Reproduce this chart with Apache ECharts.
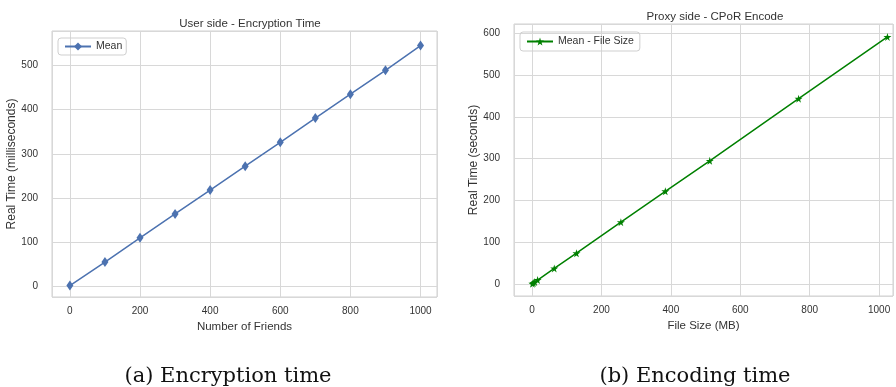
<!DOCTYPE html>
<html>
<head>
<meta charset="utf-8">
<script src="https://cdn.jsdelivr.net/npm/echarts@6/dist/echarts.min.js"></script>
<style>
  html, body { margin: 0; padding: 0; background: #fff; }
  #main { width: 896px; height: 387px; }
</style>
</head>
<body>
<div id="main"></div>
<script>
// left: user side encryption
var friends = [0, 100, 200, 300, 400, 500, 600, 700, 800, 900, 1000]
var encMs = [2, 55, 110, 164, 218, 272, 326, 381, 435, 489, 545]

// right: proxy side CPoR encode
var fileMB = [1, 4, 8, 16, 64, 128, 256, 384, 512, 768, 1024]
var encodeSec = [0.6, 2.3, 4.6, 9.3, 37, 73.5, 148, 222, 295, 444, 592]

var tickStep = 200   // only label these x values

var font = 'Liberation Sans, Arial, sans-serif'
var starPath = 'path://M50,0 L61,35 L98,35 L68,57 L79,91 L50,70 L21,91 L32,57 L2,35 L39,35 Z'

function pairs(xs, ys) {
  return xs.map(function (x, i) { return [x, ys[i]] })
}

function xAxisCfg(idx, name, min, max) {
  return {
    type: 'value', gridIndex: idx, min: min, max: max, splitNumber: 5,
    name: name, nameLocation: 'middle', nameGap: 21,
    nameTextStyle: { color: '#333', fontSize: 11.5, fontFamily: font },
    axisLine: { show: false }, axisTick: { show: false },
    axisLabel: {
      color: '#333', fontSize: 10, fontFamily: font, margin: 9,
      formatter: function (v) { return v % tickStep === 0 ? String(v) : '' }
    },
    splitLine: { lineStyle: { color: '#d8d8d8', width: 1 } }
  }
}

function yAxisCfg(idx, name, min, max, gap) {
  return {
    type: 'value', gridIndex: idx, min: min, max: max, splitNumber: 5,
    name: name, nameLocation: 'middle', nameGap: gap,
    nameTextStyle: { color: '#333', fontSize: 12, fontFamily: font },
    axisLine: { show: false }, axisTick: { show: false },
    axisLabel: {
      color: '#333', fontSize: 10, fontFamily: font, margin: 14,
      formatter: function (v) { return v % 100 === 0 ? String(v) : '' }
    },
    splitLine: { lineStyle: { color: '#d8d8d8', width: 1 } }
  }
}

var myChart = echarts.init(document.getElementById('main'), null, { renderer: 'canvas' })

var options = {
  animation: false,
  backgroundColor: '#fff',
  title: [
    { text: 'User side - Encryption Time', left: 245, top: 13, textAlign: 'center',
      textStyle: { fontSize: 11.5, fontWeight: 'normal', color: '#333', fontFamily: font } },
    { text: 'Proxy side - CPoR Encode', left: 710, top: 6, textAlign: 'center',
      textStyle: { fontSize: 11.5, fontWeight: 'normal', color: '#333', fontFamily: font } },
    { text: '(a) Encryption time', left: 223, top: 361, textAlign: 'center',
      textStyle: { fontSize: 21, fontWeight: 'normal', color: '#111', fontFamily: 'DejaVu Serif, serif' } },
    { text: '(b) Encoding time', left: 690, top: 361, textAlign: 'center',
      textStyle: { fontSize: 21, fontWeight: 'normal', color: '#111', fontFamily: 'DejaVu Serif, serif' } }
  ],
  legend: [
    { data: ['Mean'], left: 58, top: 38, orient: 'vertical',
      itemWidth: 26, itemHeight: 10, itemGap: 4,
      padding: [3, 4, 3, 6], borderColor: '#cfcfcf', borderWidth: 1, borderRadius: 3,
      textStyle: { fontSize: 10.5, color: '#333', fontFamily: font } },
    { data: ['Mean - File Size'], left: 520, top: 32, orient: 'vertical',
      itemWidth: 26, itemHeight: 10, itemGap: 4,
      padding: [4, 6, 4, 6], borderColor: '#cfcfcf', borderWidth: 1, borderRadius: 3,
      textStyle: { fontSize: 10.5, color: '#333', fontFamily: font } }
  ],
  grid: [
    { left: 52, top: 31, width: 385, height: 266, show: true, borderColor: '#d0d0d0', borderWidth: 1 },
    { left: 514, top: 24, width: 381, height: 272, show: true, borderColor: '#d0d0d0', borderWidth: 1 }
  ],
  xAxis: [
    xAxisCfg(0, 'Number of Friends', -51, 1047),
    xAxisCfg(1, 'File Size (MB)', -52, 1040)
  ],
  yAxis: [
    yAxisCfg(0, 'Real Time (milliseconds)', -24, 578, 29),
    yAxisCfg(1, 'Real Time (seconds)', -29, 623, 31)
  ],
  series: [
    {
      name: 'Mean', type: 'line', xAxisIndex: 0, yAxisIndex: 0,
      data: pairs(friends, encMs),
      symbol: 'diamond', symbolSize: [7, 10],
      lineStyle: { color: '#4c72b0', width: 1.5 },
      itemStyle: { color: '#4c72b0' }
    },
    {
      name: 'Mean - File Size', type: 'line', xAxisIndex: 1, yAxisIndex: 1,
      data: pairs(fileMB, encodeSec),
      symbol: starPath, symbolSize: 8,
      lineStyle: { color: '#008000', width: 1.5 },
      itemStyle: { color: '#008000' }
    }
  ]
}
myChart.setOption(options)
</script>
</body>
</html>
